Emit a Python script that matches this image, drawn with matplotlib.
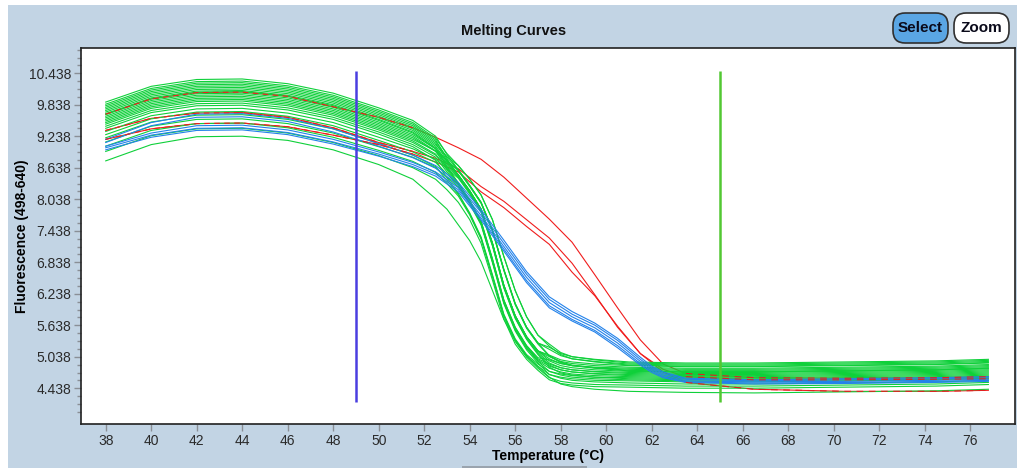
import matplotlib
matplotlib.use("Agg")
import matplotlib.pyplot as plt
from matplotlib.patches import Rectangle, FancyBboxPatch
from matplotlib.ticker import FixedLocator

plt.rcParams['font.family'] = ['Liberation Sans', 'DejaVu Sans']

# temperature sampling (degC) for each family of traces
temp_green = [38, 40, 42, 44, 46, 48, 50, 51.5, 52.5, 53, 53.5, 54, 54.5, 55, 55.5, 56,
              56.5, 57, 57.5, 58, 58.5, 59.5, 61, 63.5, 66.5, 70.5, 74.5, 76.8]
temp_blue = [38, 40, 42, 44, 46, 48, 50, 51.5, 52.5, 53.5, 54.5, 55.5, 56.5, 57.5,
             58.5, 59.5, 60.5, 61.5, 62, 62.5, 63.5, 66.5, 70.5, 74.5, 76.8]
temp_red = [38, 40, 42, 44, 46, 48, 50, 51.5, 52.5, 53.5, 54.5, 55.5, 56.5, 57.5,
            58.5, 59.5, 60.5, 61.5, 62.5, 63.5, 66.5, 70.5, 74.5, 76.8]

# fluorescence (498-640) per sample
green_curves = [
    [9.89, 10.19, 10.32, 10.33, 10.24, 10.06, 9.78, 9.54, 9.24, 8.89, 8.60, 8.30, 7.98, 7.45, 6.70, 6.05, 5.60, 5.30, 5.22, 5.10, 5.04, 4.99, 4.94, 4.92, 4.92, 4.94, 4.96, 4.99],
    [9.85, 10.15, 10.28, 10.29, 10.20, 10.02, 9.74, 9.50, 9.20, 8.91, 8.68, 8.42, 8.12, 7.65, 6.95, 6.30, 5.80, 5.45, 5.28, 5.12, 5.04, 4.98, 4.92, 4.90, 4.90, 4.92, 4.94, 4.97],
    [9.82, 10.12, 10.25, 10.26, 10.17, 9.99, 9.71, 9.47, 9.17, 8.81, 8.50, 8.20, 7.85, 7.20, 6.40, 5.82, 5.42, 5.15, 5.07, 4.98, 4.94, 4.90, 4.87, 4.85, 4.85, 4.87, 4.89, 4.92],
    [9.79, 10.09, 10.22, 10.23, 10.14, 9.96, 9.68, 9.44, 9.14, 8.84, 8.60, 8.30, 7.98, 7.45, 6.70, 6.05, 5.60, 5.30, 5.18, 5.06, 5.00, 4.95, 4.90, 4.88, 4.88, 4.90, 4.92, 4.95],
    [9.76, 10.06, 10.19, 10.20, 10.11, 9.93, 9.65, 9.41, 9.11, 8.78, 8.50, 8.20, 7.85, 7.20, 6.40, 5.82, 5.42, 5.15, 5.04, 4.95, 4.91, 4.87, 4.84, 4.82, 4.82, 4.84, 4.86, 4.89],
    [9.73, 10.03, 10.16, 10.17, 10.08, 9.90, 9.62, 9.38, 9.08, 8.85, 8.68, 8.42, 8.12, 7.65, 6.95, 6.30, 5.80, 5.45, 5.24, 5.08, 5.00, 4.94, 4.88, 4.86, 4.86, 4.88, 4.90, 4.93],
    [9.70, 10.00, 10.13, 10.14, 10.05, 9.87, 9.59, 9.35, 9.05, 8.75, 8.50, 8.20, 7.85, 7.20, 6.40, 5.82, 5.42, 5.15, 5.00, 4.91, 4.87, 4.83, 4.80, 4.78, 4.78, 4.80, 4.82, 4.85],
    [9.67, 9.97, 10.10, 10.11, 10.02, 9.84, 9.56, 9.32, 9.02, 8.66, 8.35, 8.02, 7.62, 6.90, 6.12, 5.60, 5.25, 5.02, 4.98, 4.91, 4.87, 4.84, 4.82, 4.80, 4.80, 4.82, 4.84, 4.87],
    [9.65, 9.95, 10.08, 10.09, 10.00, 9.82, 9.54, 9.30, 9.00, 8.77, 8.60, 8.30, 7.98, 7.45, 6.70, 6.05, 5.60, 5.30, 5.06, 4.94, 4.88, 4.83, 4.78, 4.76, 4.76, 4.78, 4.80, 4.83],
    [9.62, 9.92, 10.05, 10.06, 9.97, 9.79, 9.51, 9.27, 9.00, 8.72, 8.50, 8.20, 7.85, 7.20, 6.40, 5.82, 5.42, 5.15, 4.96, 4.87, 4.83, 4.79, 4.76, 4.74, 4.74, 4.76, 4.78, 4.81],
    [9.59, 9.89, 10.02, 10.03, 9.94, 9.76, 9.48, 9.24, 8.96, 8.63, 8.35, 8.02, 7.62, 6.90, 6.12, 5.60, 5.25, 5.00, 4.90, 4.83, 4.79, 4.76, 4.74, 4.72, 4.72, 4.74, 4.76, 4.79],
    [9.56, 9.86, 9.99, 10.00, 9.91, 9.73, 9.45, 9.21, 8.95, 8.70, 8.48, 8.18, 7.83, 7.18, 6.38, 5.80, 5.40, 5.12, 4.92, 4.83, 4.79, 4.75, 4.72, 4.70, 4.70, 4.72, 4.74, 4.77],
    [9.53, 9.83, 9.96, 9.97, 9.88, 9.70, 9.42, 9.18, 8.96, 8.78, 8.58, 8.28, 7.96, 7.43, 6.68, 6.03, 5.58, 5.28, 5.05, 4.93, 4.87, 4.82, 4.77, 4.75, 4.75, 4.77, 4.79, 4.82],
    [9.50, 9.80, 9.93, 9.94, 9.85, 9.67, 9.39, 9.15, 8.90, 8.60, 8.33, 8.00, 7.60, 6.88, 6.10, 5.58, 5.23, 4.98, 4.86, 4.79, 4.75, 4.72, 4.70, 4.68, 4.68, 4.70, 4.72, 4.75],
    [9.47, 9.77, 9.90, 9.91, 9.82, 9.64, 9.36, 9.12, 8.88, 8.66, 8.46, 8.16, 7.81, 7.16, 6.36, 5.78, 5.38, 5.10, 4.88, 4.79, 4.75, 4.71, 4.68, 4.66, 4.66, 4.68, 4.70, 4.73],
    [9.43, 9.73, 9.86, 9.87, 9.78, 9.60, 9.32, 9.08, 8.84, 8.56, 8.31, 7.98, 7.58, 6.86, 6.08, 5.56, 5.21, 4.96, 4.82, 4.75, 4.71, 4.68, 4.66, 4.64, 4.64, 4.66, 4.68, 4.71],
    [9.39, 9.69, 9.82, 9.83, 9.74, 9.56, 9.28, 9.04, 8.78, 8.45, 8.15, 7.78, 7.32, 6.60, 5.85, 5.38, 5.08, 4.90, 4.76, 4.71, 4.68, 4.65, 4.64, 4.62, 4.62, 4.64, 4.66, 4.69],
    [9.33, 9.63, 9.76, 9.77, 9.68, 9.50, 9.22, 9.00, 8.80, 8.62, 8.44, 8.14, 7.80, 7.15, 6.35, 5.77, 5.37, 5.08, 4.84, 4.73, 4.69, 4.65, 4.62, 4.60, 4.60, 4.62, 4.64, 4.67],
    [9.27, 9.57, 9.70, 9.71, 9.62, 9.44, 9.16, 8.94, 8.74, 8.52, 8.30, 7.97, 7.57, 6.85, 6.07, 5.55, 5.20, 4.95, 4.76, 4.69, 4.65, 4.62, 4.60, 4.58, 4.58, 4.60, 4.62, 4.65],
    [9.21, 9.51, 9.64, 9.65, 9.56, 9.38, 9.10, 8.88, 8.66, 8.40, 8.13, 7.76, 7.30, 6.58, 5.83, 5.36, 5.06, 4.86, 4.70, 4.65, 4.62, 4.59, 4.58, 4.56, 4.56, 4.58, 4.60, 4.63],
    [9.13, 9.43, 9.56, 9.57, 9.48, 9.30, 9.04, 8.84, 8.64, 8.46, 8.27, 7.95, 7.55, 6.83, 6.05, 5.53, 5.17, 4.92, 4.70, 4.63, 4.59, 4.56, 4.54, 4.52, 4.52, 4.54, 4.56, 4.59],
    [9.05, 9.35, 9.48, 9.49, 9.40, 9.22, 8.97, 8.76, 8.55, 8.34, 8.10, 7.74, 7.28, 6.56, 5.81, 5.33, 5.03, 4.82, 4.64, 4.57, 4.54, 4.51, 4.50, 4.48, 4.48, 4.50, 4.52, 4.55],
    [8.95, 9.25, 9.38, 9.39, 9.30, 9.12, 8.87, 8.64, 8.42, 8.22, 7.98, 7.65, 7.20, 6.50, 5.76, 5.28, 4.99, 4.78, 4.60, 4.53, 4.50, 4.47, 4.46, 4.44, 4.44, 4.46, 4.48, 4.51],
    [8.77, 9.08, 9.23, 9.24, 9.16, 8.98, 8.70, 8.42, 8.05, 7.85, 7.55, 7.25, 6.85, 6.30, 5.75, 5.35, 5.05, 4.85, 4.65, 4.52, 4.47, 4.42, 4.38, 4.36, 4.35, 4.37, 4.39, 4.42],
]

blue_curves = [
    [9.18, 9.50, 9.66, 9.67, 9.58, 9.38, 9.10, 8.88, 8.68, 8.36, 7.84, 7.26, 6.66, 6.18, 5.90, 5.68, 5.39, 5.03, 4.86, 4.75, 4.63, 4.60, 4.62, 4.64, 4.66],
    [9.12, 9.44, 9.60, 9.61, 9.52, 9.32, 9.05, 8.83, 8.63, 8.31, 7.79, 7.20, 6.61, 6.13, 5.85, 5.64, 5.35, 4.99, 4.83, 4.72, 4.61, 4.58, 4.60, 4.62, 4.64],
    [9.05, 9.30, 9.44, 9.45, 9.36, 9.18, 8.94, 8.74, 8.56, 8.26, 7.73, 7.14, 6.55, 6.07, 5.80, 5.59, 5.30, 4.95, 4.80, 4.69, 4.58, 4.56, 4.57, 4.59, 4.61],
    [9.02, 9.26, 9.39, 9.40, 9.31, 9.13, 8.90, 8.70, 8.52, 8.22, 7.68, 7.09, 6.49, 6.01, 5.75, 5.54, 5.25, 4.91, 4.77, 4.66, 4.56, 4.54, 4.55, 4.57, 4.59],
    [8.98, 9.22, 9.35, 9.36, 9.27, 9.09, 8.86, 8.66, 8.48, 8.18, 7.64, 7.05, 6.45, 5.97, 5.72, 5.51, 5.21, 4.88, 4.74, 4.64, 4.55, 4.52, 4.53, 4.55, 4.57],
]

red_curves = [
    [9.66, 9.95, 10.07, 10.08, 10.00, 9.80, 9.60, 9.40, 9.22, 9.02, 8.80, 8.46, 8.06, 7.66, 7.22, 6.60, 5.97, 5.36, 4.90, 4.72, 4.64, 4.63, 4.64, 4.66],
    [9.35, 9.58, 9.68, 9.69, 9.60, 9.40, 9.12, 8.95, 8.82, 8.62, 8.28, 8.00, 7.65, 7.30, 6.82, 6.22, 5.60, 5.10, 4.80, 4.66, 4.60, 4.60, 4.61, 4.62],
    [9.18, 9.38, 9.48, 9.49, 9.42, 9.26, 9.08, 8.90, 8.75, 8.56, 8.18, 7.88, 7.52, 7.18, 6.65, 6.20, 5.62, 5.10, 4.75, 4.55, 4.42, 4.38, 4.38, 4.40],
]

# cursor positions (degC)
cursor_low = 49
cursor_high = 65

y_ticks = [4.438, 5.038, 5.638, 6.238, 6.838, 7.438, 8.038, 8.638, 9.238, 9.838, 10.438]
x_ticks = list(range(38, 77, 2))

panel = '#c2d4e4'
fig = plt.figure(figsize=(10.17, 4.68), dpi=100, facecolor='white')
fig.patches.append(Rectangle((8 / 1017, 0), 1 - 8 / 1017, 1 - 5 / 468,
                             transform=fig.transFigure, facecolor=panel,
                             edgecolor='none', zorder=-2))
fig.patches.append(Rectangle((462 / 1017, 0), 125 / 1017, 2 / 468,
                             transform=fig.transFigure, facecolor='#9aa4ae',
                             edgecolor='none', zorder=-1))

ax = fig.add_axes([80.7 / 1017, 1 - 424 / 468, (1015 - 80.7) / 1017, 376 / 468])
ax.set_zorder(1)
ax.set_facecolor('white')

for vals in red_curves:
    ax.plot(temp_red, vals, color='#f01c1c', lw=0.8, zorder=2)
for vals in green_curves:
    ax.plot(temp_green, vals, color='#0fd03a', lw=0.8, zorder=3)
for vals in blue_curves:
    ax.plot(temp_blue, vals, color='#2382ea', lw=0.8, zorder=4)
# red traces partly showing through the green bundle
for vals in red_curves:
    ax.plot(temp_red[:8], vals[:8], color='#f01c1c', lw=0.8, zorder=4, dashes=(5, 4))
    ax.plot(temp_red[-5:], vals[-5:], color='#e02020', lw=0.8, zorder=4, dashes=(6, 5))

ax.vlines(cursor_low, 4.17, 10.48, color='#4a3ee0', lw=1.8, zorder=5)
ax.vlines(cursor_high, 4.17, 10.48, color='#52c832', lw=1.8, zorder=5)

ax.set_xlim(36.9, 77.97)
ax.set_ylim(3.758, 10.92)
ax.xaxis.set_major_locator(FixedLocator(x_ticks))
ax.yaxis.set_major_locator(FixedLocator(y_ticks))
minor_y = [t + d for t in [3.838] + y_ticks for d in (0.15, 0.3, 0.45)]
ax.yaxis.set_minor_locator(FixedLocator([v for v in minor_y if v < 10.9]))
ax.set_yticklabels([f'{v:.3f}' for v in y_ticks])
ax.tick_params(axis='both', which='major', length=5, width=1, color='#8a8f96',
               labelsize=10, labelcolor='#2a2a2a', pad=2)
ax.tick_params(axis='y', which='minor', length=3, width=1, color='#8a8f96')
for s in ax.spines.values():
    s.set_color('#202020')
    s.set_linewidth(1.2)

ax.set_xlabel('Temperature (°C)', fontsize=10, fontweight='bold', labelpad=1)
ax.set_ylabel('Fluorescence (498-640)', fontsize=10, fontweight='bold')
ax.yaxis.set_label_coords(-52 / (1015 - 80.7), 0.5)
fig.text(514 / 1017, 1 - 31 / 468, 'Melting Curves', ha='center', va='center',
         fontsize=10.5, fontweight='bold', color='#111111')

# toolbar buttons
for x0, x1, label, fill in [(893, 948, 'Select', '#5aa6e4'), (954, 1009, 'Zoom', 'white')]:
    fig.patches.append(FancyBboxPatch((x0 / 1017, 1 - 43 / 468), (x1 - x0) / 1017, 30 / 468,
                                      boxstyle='round,pad=0,rounding_size=0.012',
                                      transform=fig.transFigure, facecolor=fill,
                                      edgecolor='#303030', lw=1.2, zorder=2,
                                      mutation_aspect=1017 / 468))
    fig.text((x0 + x1) / 2 / 1017, 1 - 28.5 / 468, label, ha='center', va='center',
             fontsize=11, fontweight='bold', color='#0a0a1a')

fig.savefig('out.png', dpi=100, facecolor=fig.get_facecolor())
